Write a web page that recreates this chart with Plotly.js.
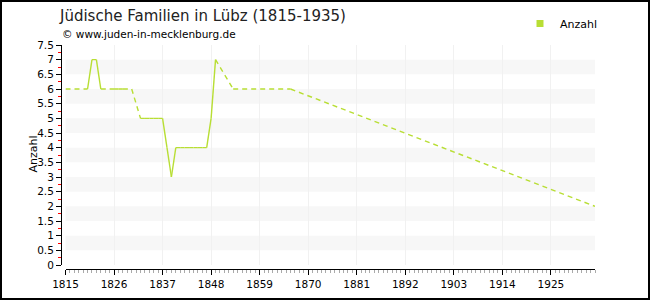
<!DOCTYPE html>
<html>
<head>
<meta charset="utf-8">
<script src="https://cdn.plot.ly/plotly-3.0.1.min.js"></script>
<style>
body{margin:0;padding:0;background:#fff;}
#wrap{position:relative;width:650px;height:300px;}
#chart{width:650px;height:300px;}
#frame{position:absolute;left:0;top:0;width:650px;height:300px;box-sizing:border-box;border:2px solid #000;pointer-events:none;}
</style>
</head>
<body>
<div id="wrap"><div id="chart"></div><div id="frame"></div></div>
<script>
const years  = [1815,1820,1821,1822,1823,1825,1826,1827,1828,1830,1832,1833,1834,1835,1836,1837,1838,1839,1840,1841,1842,1843,1844,1845,1846,1847,1848,1849,1853,1866,1935];
const values = [6,6,7,7,6,6,6,6,6,6,5,5,5,5,5,5,4,3,4,4,4,4,4,4,4,4,5,7,6,6,2];
const seriesName = 'Anzahl';
const titleText = 'Jüdische Familien in Lübz (1815-1935)';
const sourceText = '© www.juden-in-mecklenburg.de';
const xTickStart = 1815, xTickStep = 11;
const yTickStep = 0.5;

const lineColor = 'rgb(184,222,52)';

// split into solid (consecutive years) and dashed (gaps) segments
const sx = [], sy = [], dx = [], dy = [];
for (let i = 1; i < years.length; i++) {
  const gap = years[i] - years[i-1] > 1;
  const tx = gap ? dx : sx, ty = gap ? dy : sy;
  tx.push(years[i-1], years[i], null);
  ty.push(values[i-1], values[i], null);
}

const traces = [
  {x: dx, y: dy, type: 'scatter', mode: 'lines', showlegend: false, hoverinfo: 'skip',
   line: {color: lineColor, width: 1.4, dash: '5px,4px'}},
  {x: sx, y: sy, type: 'scatter', mode: 'lines', showlegend: false, hoverinfo: 'skip',
   line: {color: lineColor, width: 1.4}},
  {x: [null], y: [null], type: 'scatter', mode: 'markers', name: seriesName,
   marker: {symbol: 'square', size: 7, color: lineColor}}
];

const shapes = [];
for (let k = 0; k < 7; k++) {
  shapes.push({type: 'rect', xref: 'x domain', yref: 'y', x0: 0, x1: 1, y0: k + 0.5, y1: k + 1,
    fillcolor: '#f7f7f7', line: {width: 0}, layer: 'below'});
}

const font = 'DejaVu Sans, Verdana, sans-serif';
const layout = {
  width: 650, height: 300,
  margin: {l: 61, r: 55, t: 45, b: 31, autoexpand: false},
  paper_bgcolor: '#fff', plot_bgcolor: 'rgba(0,0,0,0)',
  font: {family: font, size: 11, color: '#000'},
  title: {text: titleText, xref: 'container', yref: 'container', x: 60/650, xanchor: 'left',
          y: 1 - 16/300, yanchor: 'middle', font: {family: font, size: 15, color: '#222'}},
  annotations: [
    {text: sourceText, xref: 'paper', yref: 'paper', x: -1/534, y: (269-34)/224,
     xanchor: 'left', yanchor: 'middle', showarrow: false,
     font: {family: font, size: 10.5, color: '#000'}},
    {text: seriesName, xref: 'paper', yref: 'paper', x: (32.5-61)/534, y: (269-154)/224,
     xanchor: 'center', yanchor: 'middle', textangle: -90, showarrow: false,
     font: {family: font, size: 11, color: '#000'}}
  ],
  showlegend: true,
  legend: {x: (520-61)/534, y: (269-9)/224, xanchor: 'left', yanchor: 'top',
           font: {family: font, size: 11, color: '#000'}, bgcolor: 'rgba(0,0,0,0)',
           itemwidth: 30, tracegroupgap: 0},
  xaxis: {range: [1815, 1935], domain: [4.5/534, 1], anchor: 'free', position: 0,
          tick0: xTickStart, dtick: xTickStep, ticks: 'outside', ticklen: 5, tickcolor: '#000',
          showline: true, linecolor: '#000', linewidth: 1, zeroline: false,
          showgrid: true, gridcolor: '#f1f1f1', gridwidth: 1,
          tickfont: {family: font, size: 10.5, color: '#000'},
          minor: {dtick: 1, tick0: 1815, ticks: 'outside', ticklen: 3, tickcolor: '#aaa', showgrid: false}},
  yaxis: {range: [0, 7.5], domain: [4/224, 1], anchor: 'free', position: 0,
          dtick: yTickStep, tick0: 0, ticks: 'outside', ticklen: 5, tickcolor: '#000',
          showline: true, linecolor: '#000', linewidth: 1, zeroline: false, showgrid: false,
          tickfont: {family: font, size: 10.5, color: '#000'},
          minor: {dtick: 0.25, tick0: 0, ticks: 'outside', ticklen: 3, tickcolor: '#f00', showgrid: false}},
  shapes: shapes
};

Plotly.newPlot('chart', traces, layout, {staticPlot: true, displayModeBar: false});
</script>
</body>
</html>
